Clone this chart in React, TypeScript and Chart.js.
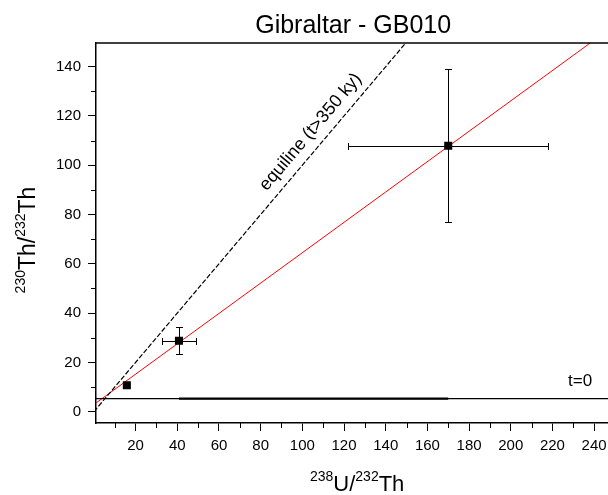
import React, { useEffect, useRef } from 'react';
import { Chart, registerables } from 'chart.js';

Chart.register(...registerables);

// ---- data ----
const titleText = 'Gibraltar - GB010';
const sampleX = [15.8, 40.8, 170];
const sampleY = [10.7, 28.8, 107.9];
const sampleXErr = [0, 8, 48];
const sampleYErr = [0, 5.5, 31];
const isochronX = [0, 243];
const isochronY = [2.9, 152.6];
const equilineX = [0, 160];
const equilineY = [0, 160];
const t0X = [1, 246.8];
const t0Y = [5.3, 5.3];
const t0BoldX = [40.8, 170];
const xMajorTicks = [20, 40, 60, 80, 100, 120, 140, 160, 180, 200, 220, 240];
const xMinorTicks = [10, 30, 50, 70, 90, 110, 130, 150, 170, 190, 210, 230];
const yMajorTicks = [0, 20, 40, 60, 80, 100, 120, 140];
const yMinorTicks = [10, 30, 50, 70, 90, 110, 130];
const xRange = [1, 246.8];
const yRange = [-4.6, 149.6];
const equilineLabel = 'equiline (t>350 ky)';
const equilineLabelPos = [104, 113.5];
const t0Label = 't=0';
const t0LabelPos = [233.3, 12.2];
const xTitle = [
  { t: '238', sup: true },
  { t: 'U/', sup: false },
  { t: '232', sup: true },
  { t: 'Th', sup: false },
];
const yTitle = [
  { t: '230', sup: true },
  { t: 'Th/', sup: false },
  { t: '232', sup: true },
  { t: 'Th', sup: false },
];

const FONT = '"Liberation Sans", Arial, sans-serif';
const CANVAS_W = 614;
const VIEW_W = 608;
const VIEW_H = 495;

function drawRich(ctx: CanvasRenderingContext2D, parts: { t: string; sup: boolean }[], mainSize: number, supSize: number, supShift: number) {
  const widths = parts.map((p) => {
    ctx.font = `${p.sup ? supSize : mainSize}px ${FONT}`;
    return ctx.measureText(p.t).width;
  });
  const total = widths.reduce((a, b) => a + b, 0);
  let x = -total / 2;
  ctx.textAlign = 'left';
  ctx.textBaseline = 'alphabetic';
  parts.forEach((p, i) => {
    ctx.font = `${p.sup ? supSize : mainSize}px ${FONT}`;
    ctx.fillText(p.t, x, p.sup ? -supShift : 0);
    x += widths[i];
  });
}

const crisp = (v: number) => Math.round(v) + 0.5;

const decorPlugin = {
  id: 'decor',
  beforeDatasetsDraw(chart: any) {
    const ctx = chart.ctx as CanvasRenderingContext2D;
    const xs = chart.scales.x;
    const ys = chart.scales.y;
    ctx.save();
    ctx.strokeStyle = '#000';
    ctx.lineWidth = 1;
    const cap = 3.5;
    for (let i = 0; i < sampleX.length; i++) {
      const px = crisp(xs.getPixelForValue(sampleX[i]));
      const py = crisp(ys.getPixelForValue(sampleY[i]));
      if (sampleXErr[i] > 0) {
        const l = crisp(xs.getPixelForValue(sampleX[i] - sampleXErr[i]));
        const r = crisp(xs.getPixelForValue(sampleX[i] + sampleXErr[i]));
        ctx.beginPath();
        ctx.moveTo(l, py); ctx.lineTo(r, py);
        ctx.moveTo(l, py - cap); ctx.lineTo(l, py + cap);
        ctx.moveTo(r, py - cap); ctx.lineTo(r, py + cap);
        ctx.stroke();
      }
      if (sampleYErr[i] > 0) {
        const t = crisp(ys.getPixelForValue(sampleY[i] + sampleYErr[i]));
        const b = crisp(ys.getPixelForValue(sampleY[i] - sampleYErr[i]));
        ctx.beginPath();
        ctx.moveTo(px, t); ctx.lineTo(px, b);
        ctx.moveTo(px - cap, t); ctx.lineTo(px + cap, t);
        ctx.moveTo(px - cap, b); ctx.lineTo(px + cap, b);
        ctx.stroke();
      }
    }
    ctx.restore();
  },
  afterDraw(chart: any) {
    const ctx = chart.ctx as CanvasRenderingContext2D;
    const xs = chart.scales.x;
    const ys = chart.scales.y;
    const area = chart.chartArea;
    ctx.save();
    // top frame
    ctx.strokeStyle = '#000';
    ctx.lineWidth = 1.5;
    ctx.beginPath();
    ctx.moveTo(area.left, area.top);
    ctx.lineTo(area.right, area.top);
    ctx.stroke();
    // minor ticks
    ctx.lineWidth = 1;
    ctx.beginPath();
    xMinorTicks.forEach((v) => {
      const p = crisp(xs.getPixelForValue(v));
      ctx.moveTo(p, area.bottom);
      ctx.lineTo(p, area.bottom + 5);
    });
    yMinorTicks.forEach((v) => {
      const p = crisp(ys.getPixelForValue(v));
      ctx.moveTo(area.left, p);
      ctx.lineTo(area.left - 5, p);
    });
    ctx.stroke();

    ctx.fillStyle = '#000';
    // title
    ctx.font = `25px ${FONT}`;
    ctx.textAlign = 'center';
    ctx.textBaseline = 'alphabetic';
    ctx.fillText(titleText, (area.left + area.right) / 2 + 1, 33);

    // x title
    ctx.save();
    ctx.translate((area.left + area.right) / 2 + 5, 491);
    drawRich(ctx, xTitle, 22, 14, 10);
    ctx.restore();

    // y title
    ctx.save();
    ctx.translate(35, 240);
    ctx.rotate(-Math.PI / 2);
    drawRich(ctx, yTitle, 23, 14, 10);
    ctx.restore();

    // equiline label
    const ex = xs.getPixelForValue(equilineLabelPos[0]);
    const ey = ys.getPixelForValue(equilineLabelPos[1]);
    const ang = Math.atan2(
      ys.getPixelForValue(equilineY[1]) - ys.getPixelForValue(equilineY[0]),
      xs.getPixelForValue(equilineX[1]) - xs.getPixelForValue(equilineX[0])
    );
    ctx.save();
    ctx.translate(ex, ey);
    ctx.rotate(ang);
    ctx.font = `18px ${FONT}`;
    ctx.textAlign = 'center';
    ctx.textBaseline = 'middle';
    ctx.fillText(equilineLabel, 0, 0);
    ctx.restore();

    // t=0 label
    ctx.font = `17px ${FONT}`;
    ctx.textAlign = 'center';
    ctx.textBaseline = 'middle';
    ctx.fillText(t0Label, xs.getPixelForValue(t0LabelPos[0]), ys.getPixelForValue(t0LabelPos[1]));
    ctx.restore();
  },
};

export default function App() {
  const ref = useRef<HTMLCanvasElement | null>(null);
  useEffect(() => {
    if (!ref.current) return;
    const pts = (xa: number[], ya: number[]) => xa.map((x, i) => ({ x, y: ya[i] }));
    const chart = new Chart(ref.current, {
      type: 'scatter',
      data: {
        datasets: [
          {
            label: 'isochron',
            data: pts(isochronX, isochronY),
            showLine: true,
            borderColor: '#ff0000',
            borderWidth: 1,
            pointRadius: 0,
            order: 5,
          },
          {
            label: 'equiline',
            data: pts(equilineX, equilineY),
            showLine: true,
            borderColor: '#000',
            borderWidth: 1.2,
            borderDash: [5, 2],
            pointRadius: 0,
            order: 4,
          },
          {
            label: 't0',
            data: pts(t0X, t0Y),
            showLine: true,
            borderColor: '#000',
            borderWidth: 1.4,
            pointRadius: 0,
            order: 3,
          },
          {
            label: 't0b',
            data: pts(t0BoldX, [t0Y[0], t0Y[1]]),
            showLine: true,
            borderColor: '#000',
            borderWidth: 2.2,
            pointRadius: 0,
            order: 2,
          },
          {
            label: 'samples',
            data: pts(sampleX, sampleY),
            showLine: false,
            pointStyle: 'rect',
            pointRadius: 5.7,
            pointBackgroundColor: '#000',
            pointBorderColor: '#000',
            pointBorderWidth: 0,
            order: 1,
          },
        ],
      },
      options: {
        responsive: false,
        animation: false,
        devicePixelRatio: 1,
        layout: { padding: { top: 43, left: 0, right: 0, bottom: 0 } },
        plugins: { legend: { display: false }, tooltip: { enabled: false }, title: { display: false } },
        scales: {
          x: {
            type: 'linear',
            min: xRange[0],
            max: xRange[1],
            grid: { drawOnChartArea: false, drawTicks: true, tickLength: 8, color: '#000', lineWidth: 1 },
            border: { display: true, color: '#000', width: 1.5 },
            ticks: { color: '#000', font: { family: FONT, size: 15 }, padding: 6, maxRotation: 0, autoSkip: false },
            afterBuildTicks: (s: any) => { s.ticks = xMajorTicks.map((v) => ({ value: v })); },
            afterFit: (s: any) => { s.height = 72; s.paddingLeft = 0; s.paddingRight = 0; },
          },
          y: {
            type: 'linear',
            min: yRange[0],
            max: yRange[1],
            grid: { drawOnChartArea: false, drawTicks: true, tickLength: 8, color: '#000', lineWidth: 1 },
            border: { display: true, color: '#000', width: 1.5 },
            ticks: { color: '#000', font: { family: FONT, size: 15 }, padding: 7, autoSkip: false },
            afterBuildTicks: (s: any) => { s.ticks = yMajorTicks.map((v) => ({ value: v })); },
            afterFit: (s: any) => { s.width = 96; s.paddingTop = 0; s.paddingBottom = 0; s.paddingLeft = 0; s.paddingRight = 0; },
          },
        },
      } as any,
      plugins: [decorPlugin],
    });
    return () => chart.destroy();
  }, []);
  return (
    <div style={{ position: 'fixed', left: 0, top: 0, width: VIEW_W, height: VIEW_H, background: '#fff', overflow: 'hidden' }}>
      <canvas ref={ref} width={CANVAS_W} height={VIEW_H} style={{ display: 'block' }} />
    </div>
  );
}
